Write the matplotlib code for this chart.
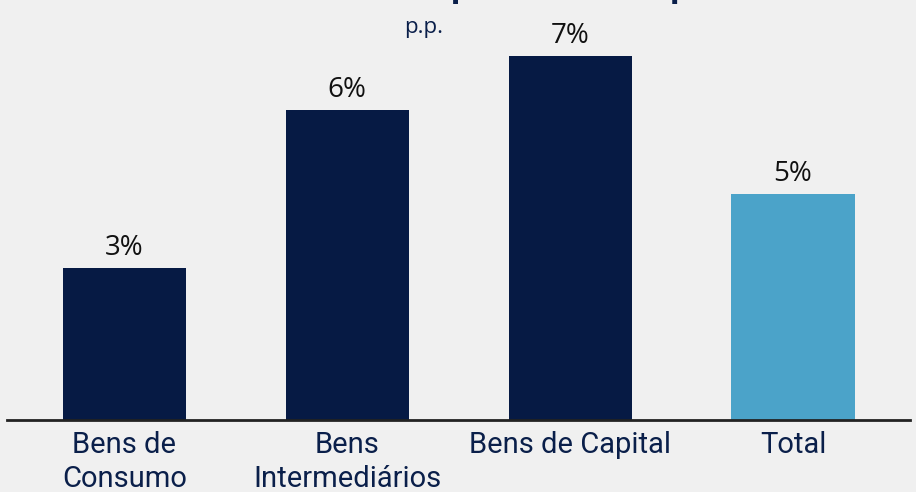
import matplotlib
matplotlib.use("Agg")
import matplotlib.pyplot as plt
from matplotlib.textpath import TextPath
from matplotlib.font_manager import FontProperties

categories = ["Bens de\nConsumo", "Bens\nIntermediários", "Bens de Capital", "Total"]
values = [3.1, 6.3, 7.4, 4.6]
colors = ["#061a44", "#061a44", "#061a44", "#4ba3c9"]
subtitle = "p.p."
title = "Impacto médio por setor"

bg = "#f0f0f0"
navy = "#0a1f4a"

fig = plt.figure(figsize=(9.16, 4.92), dpi=100, facecolor=bg)
ax = fig.add_axes([7/916, 72/492, 903/916, 393.5/492], facecolor=bg)

x = list(range(len(categories)))
ax.bar(x, values, width=0.553, color=colors)
ax.set_xlim(-0.527, 3.525)
ax.set_ylim(0, 8)

for xi, v in zip(x, values):
    ax.text(xi, v + 0.12, f"{v:.0f}%", ha="center", va="bottom",
            fontsize=20, color="#111111", family="Open Sans")

ax.set_xticks(x)
ax.set_xticklabels(categories, fontsize=21, color=navy, family="Roboto",
                   linespacing=1.26)
ax.tick_params(axis="x", length=0, pad=8)
ax.set_yticks([])
for s in ["top", "left", "right"]:
    ax.spines[s].set_visible(False)
ax.spines["bottom"].set_color("#222222")
ax.spines["bottom"].set_linewidth(2)

fig.text(424/916, 1 - 33/492, subtitle, ha="center", va="baseline",
         fontsize=16, color=navy, family="Open Sans")

# partially visible bold title above the figure (only descenders show)
tfs = 24.5
fp = FontProperties(family="Open Sans", weight="bold", size=tfs)
w_prefix = TextPath((0, 0), "Im", prop=fp).get_extents().width * 100 / 72
x_start = 448 - w_prefix - 3
fig.text(x_start/916, 1 + 4/492, title, ha="left", va="baseline",
         fontsize=tfs, fontweight="bold", color=navy, family="Open Sans")

fig.savefig("out.png", dpi=100, facecolor=bg)
